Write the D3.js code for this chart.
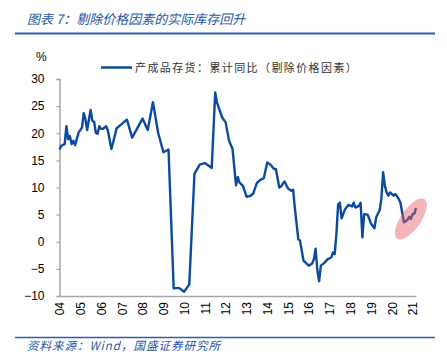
<!DOCTYPE html>
<meta charset="utf-8">
<style>
  body { margin: 0; background: #fff; }
  svg { display: block; }
</style>
<svg width="447" height="362"></svg>
<script src="https://d3js.org/d3.v7.min.js"></script>
<script>
// month of each reading, and the inventory yoy value (price effect removed, %)
var months = [
  "2004-01","2004-02","2004-04","2004-05","2004-06","2004-07","2004-08","2004-09","2004-10","2004-12",
  "2005-02","2005-03","2005-04","2005-05","2005-07","2005-08","2005-09","2005-10","2005-11","2005-12",
  "2006-01","2006-02","2006-04","2006-05","2006-07","2006-08","2006-10",
  "2007-04","2007-07","2008-01","2008-04","2008-07","2008-10",
  "2009-01","2009-04","2009-07","2009-10","2010-01","2010-04","2010-07","2010-10",
  "2011-01","2011-05","2011-07","2011-08","2011-11",
  "2012-01","2012-03","2012-05","2012-07","2012-08","2012-09","2012-11",
  "2013-01","2013-03","2013-05","2013-07","2013-09","2013-11",
  "2014-01","2014-03","2014-05","2014-06","2014-08","2014-09","2014-11",
  "2015-01","2015-03","2015-04","2015-05","2015-07","2015-08","2015-09","2015-10",
  "2016-01","2016-03","2016-04","2016-05","2016-06","2016-07","2016-08","2016-10","2016-12",
  "2017-02","2017-03","2017-04","2017-05","2017-06","2017-07","2017-08","2017-10","2017-12",
  "2018-02","2018-03","2018-04","2018-06","2018-07","2018-08","2018-09","2018-11","2018-12",
  "2019-01","2019-03","2019-04","2019-06","2019-07","2019-08","2019-09","2019-10","2019-11","2019-12",
  "2020-02","2020-03","2020-05","2020-06","2020-07","2020-08","2020-10","2020-11","2020-12",
  "2021-01","2021-02","2021-03"
];
var values = [
  17.0,17.7,18.0,21.3,18.9,19.5,18.0,18.6,17.8,20.1,
  21.1,23.7,22.6,20.6,24.3,22.3,22.1,20.1,19.9,21.3,
  20.8,20.8,21.3,20.5,17.1,18.3,20.9,
  22.5,19.2,22.7,20.6,25.7,20.1,
  16.5,17.0,-8.6,-8.5,-9.2,-7.9,12.5,14.2,
  14.5,13.6,27.5,25.7,22.9,
  22.0,18.6,17.1,10.4,11.9,10.9,10.3,
  8.3,8.4,8.9,10.8,11.4,11.7,
  14.6,14.2,13.4,13.4,10.0,10.2,11.1,
  9.8,9.4,9.6,6.3,0.5,0.2,-1.7,-3.5,
  -4.4,-4.0,-3.2,-1.3,-5.3,-7.3,-4.4,-3.9,-3.2,
  -2.9,-2.0,-2.3,1.4,6.9,7.2,4.3,6.0,6.8,
  6.5,7.2,6.3,6.6,7.2,0.8,5.1,5.0,4.2,
  3.3,2.5,4.5,5.8,7.9,12.8,10.3,9.1,8.5,9.1,
  8.5,8.8,7.9,7.2,5.4,3.6,4.0,4.6,4.2,
  5.1,5.2,6.2
];
var yTicks = [-10, -5, 0, 5, 10, 15, 20, 25, 30];
var xYears = d3.range(2004, 2022);
var seriesName = "产成品存货：累计同比（剔除价格因素）";
var title = "图表 7：剔除价格因素的实际库存回升";
var source = "资料来源：Wind，国盛证券研究所";

var parse = d3.timeParse("%Y-%m");
var data = months.map(function(m, i) { return { date: parse(m), value: values[i] }; });

var svg = d3.select("svg");
var blue = "#0b4a9f";
var axisGrey = "#a6a6a6";
var cjk = "'Noto Sans CJK SC', sans-serif";

var x = d3.scaleTime()
  .domain([parse("2004-01"), parse("2021-03")])
  .range([59.5, 416]);
var y = d3.scaleLinear()
  .domain([-10, 30])
  .range([296, 79]);

// header
svg.append("text")
  .attr("x", 27).attr("y", 24)
  .attr("font-family", cjk).attr("font-size", 13).attr("font-style", "italic")
  .attr("fill", "#2456a4")
  .text(title);
svg.append("line")
  .attr("x1", 15).attr("x2", 435).attr("y1", 33.5).attr("y2", 33.5)
  .attr("stroke", "#2d5ea8").attr("stroke-width", 2);

// y axis
var yAxis = svg.append("g")
  .attr("transform", "translate(59.5,0)")
  .call(d3.axisLeft(y).tickValues(yTicks).tickSize(3).tickPadding(12));
yAxis.select(".domain").attr("stroke", axisGrey).attr("stroke-width", 1.5);
yAxis.selectAll(".tick line").attr("stroke", axisGrey).attr("stroke-width", 1.2);
yAxis.selectAll("text")
  .attr("font-family", "'Liberation Sans', Arial, sans-serif")
  .attr("font-size", 12).attr("fill", "#000");

// x axis
var xAxis = svg.append("g")
  .attr("transform", "translate(0,296)")
  .call(d3.axisBottom(x)
    .tickValues(xYears.map(function(yr) { return new Date(yr, 0, 1); }))
    .tickSize(0)
    .tickFormat(d3.timeFormat("%y")));
xAxis.select(".domain").attr("stroke", axisGrey).attr("stroke-width", 1.5);
xAxis.selectAll("text")
  .attr("font-family", "'Liberation Sans', Arial, sans-serif")
  .attr("font-size", 12).attr("fill", "#000")
  .attr("text-anchor", "end")
  .attr("transform", "translate(0,6) rotate(-90)")
  .attr("x", 0).attr("y", 0).attr("dy", "0.35em");

// unit
svg.append("text")
  .attr("x", 36).attr("y", 61)
  .attr("font-family", "'Liberation Sans', Arial, sans-serif")
  .attr("font-size", 12)
  .text("%");

// series
var line = d3.line()
  .x(function(d) { return x(d.date); })
  .y(function(d) { return y(d.value); });
svg.append("path")
  .datum(data)
  .attr("d", line)
  .attr("fill", "none")
  .attr("stroke", blue)
  .attr("stroke-width", 2.4)
  .attr("stroke-linejoin", "round");

// highlight ellipse over the latest readings
var cx = x(parse("2020-12")), cy = y(4.2);
svg.append("ellipse")
  .attr("transform", "translate(" + cx + "," + cy + ") rotate(-55)")
  .attr("rx", 24).attr("ry", 10)
  .attr("fill", "rgb(235,90,100)").attr("fill-opacity", 0.45);

// legend
svg.append("line")
  .attr("x1", 101).attr("x2", 132).attr("y1", 67.5).attr("y2", 67.5)
  .attr("stroke", blue).attr("stroke-width", 2.5);
svg.append("text")
  .attr("x", 135).attr("y", 71.5)
  .attr("font-family", cjk).attr("font-size", 11)
  .attr("letter-spacing", 1.4)
  .attr("fill", "#333")
  .text(seriesName);

// footer
svg.append("line")
  .attr("x1", 15).attr("x2", 435).attr("y1", 337.5).attr("y2", 337.5)
  .attr("stroke", "#2d5ea8").attr("stroke-width", 1.5);
svg.append("text")
  .attr("x", 27).attr("y", 350)
  .attr("font-family", cjk).attr("font-size", 11.5).attr("font-style", "italic")
  .attr("letter-spacing", 1)
  .attr("fill", "#2456a4")
  .text(source);
</script>
